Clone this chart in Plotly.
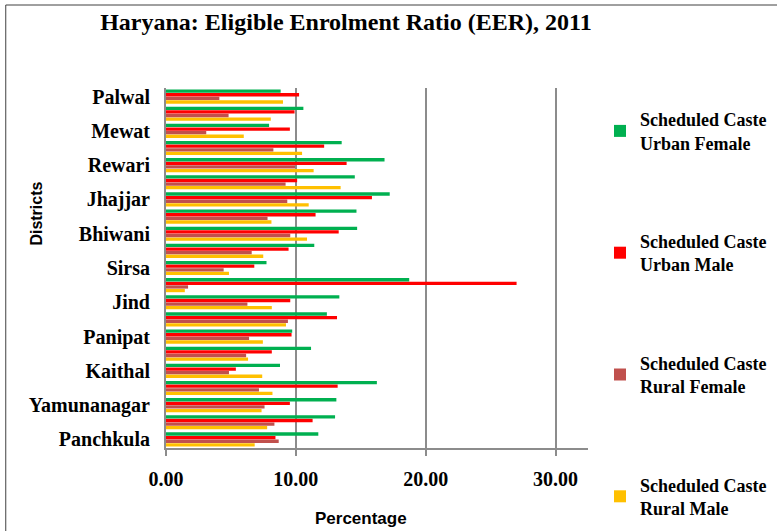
import plotly.graph_objects as go

# Districts listed bottom-to-top on the chart (census order)
districts = ["Panchkula", "Ambala", "Yamunanagar", "Kurukshetra", "Kaithal", "Karnal",
             "Panipat", "Sonipat", "Jind", "Fatehabad", "Sirsa", "Hisar", "Bhiwani",
             "Rohtak", "Jhajjar", "Mahendragarh", "Rewari", "Gurgaon", "Mewat",
             "Faridabad", "Palwal"]

sc_urban_female = [11.73, 13.02, 13.12, 16.24, 8.78, 11.17, 9.72, 12.39, 13.35, 18.73, 7.74,
                   11.42, 14.72, 14.67, 17.23, 14.54, 16.83, 13.53, 7.94, 10.58, 8.83]
sc_urban_male = [8.43, 11.29, 9.54, 13.22, 5.38, 8.15, 9.67, 13.17, 9.57, 27.00, 6.80,
                 9.44, 13.30, 11.52, 15.86, 10.10, 13.91, 12.18, 9.54, 9.90, 10.25]
sc_rural_female = [8.68, 8.35, 7.59, 7.16, 4.85, 6.17, 6.40, 9.39, 6.27, 1.70, 4.44,
                   6.60, 9.57, 7.82, 9.34, 9.21, 9.95, 8.27, 3.10, 4.82, 4.11]
sc_rural_male = [6.83, 7.79, 7.36, 8.20, 7.41, 6.32, 7.46, 9.24, 8.15, 1.45, 4.85,
                 7.49, 10.86, 8.12, 10.99, 13.45, 11.37, 10.48, 5.99, 8.07, 9.01]

# Only every other district is labelled on the axis
labelled = districts[::2]
x_ticks = [0, 10, 20, 30]

# (legend text, values, colour, legend rank) -- drawn bottom-to-top within a group
series = [
    ("Scheduled Caste<br>Rural Male", sc_rural_male, "#FFC000", 4),
    ("Scheduled Caste<br>Rural Female", sc_rural_female, "#C0504D", 3),
    ("Scheduled Caste<br>Urban Male", sc_urban_male, "#FF0000", 2),
    ("Scheduled Caste<br>Urban Female", sc_urban_female, "#00B050", 1),
]

fig = go.Figure()
for i, (name, vals, color, rank) in enumerate(series):
    fig.add_trace(go.Bar(
        y=districts, x=vals, name=name, orientation="h",
        marker=dict(color=color, line=dict(width=0)),
        legendgroup=f"g{i}", legendrank=rank,
    ))

serif = "Liberation Serif, Times New Roman, serif"
sans = "Liberation Sans, Arial, sans-serif"

W, H = 777, 531
L, R, T, B = 166, 187, 88, 83
pw, ph = W - L - R, H - T - B

def px_x(v):
    return (v - L) / pw

def px_y(v):
    return (H - B - v) / ph

fig.update_layout(
    width=W, height=H,
    margin=dict(l=L, r=R, t=T, b=B),
    paper_bgcolor="white", plot_bgcolor="white",
    barmode="group", bargap=0.16, bargroupgap=0.08,
    title=dict(text="Haryana: Eligible Enrolment Ratio (EER), 2011",
               x=346 / W, xanchor="center", xref="container",
               y=1 - 22 / H, yanchor="middle", yref="container",
               font=dict(family=serif, size=24, color="black", weight="bold")),
    xaxis=dict(range=[0, 32.5], tickvals=x_ticks,
               ticktext=[f"{v:.2f}" for v in x_ticks],
               showgrid=True, gridcolor="#8C8C8C", gridwidth=2,
               zeroline=False, showline=True, linecolor="#8C8C8C", linewidth=2,
               ticks="outside", ticklen=6, tickcolor="#8C8C8C", tickwidth=2,
               ticklabelstandoff=6,
               tickfont=dict(family=serif, size=20, color="black", weight="bold")),
    yaxis=dict(type="category", categoryorder="array", categoryarray=districts,
               tickvals=labelled, ticktext=labelled,
               showgrid=False, zeroline=False, showline=True,
               linecolor="#8C8C8C", linewidth=2, ticks="",
               ticklabelstandoff=10,
               tickfont=dict(family=serif, size=20, color="black", weight="bold")),
    legend=dict(xref="container", yref="container",
                x=600 / W, xanchor="left", y=1 - 101 / H, yanchor="top",
                traceorder="grouped", tracegroupgap=72, maxheight=1.0,
                itemwidth=30,
                font=dict(family=serif, size=18, color="black", weight="bold"),
                bgcolor="rgba(0,0,0,0)", itemclick=False),
    annotations=[
        dict(text="Districts", xref="paper", yref="paper",
             x=px_x(35), y=px_y(214), xanchor="center", yanchor="middle",
             textangle=-90, showarrow=False,
             font=dict(family=sans, size=16, color="black", weight="bold")),
        dict(text="Percentage", xref="paper", yref="paper",
             x=px_x(362), y=px_y(518), xanchor="center", yanchor="middle",
             showarrow=False,
             font=dict(family=sans, size=17, color="black", weight="bold")),
    ],
    shapes=[dict(type="rect", xref="paper", yref="paper",
                 x0=px_x(5), x1=px_x(800), y0=px_y(560), y1=px_y(5),
                 line=dict(color="#404040", width=1), fillcolor="rgba(0,0,0,0)",
                 layer="below")],
)

fig.write_html("out.html")
